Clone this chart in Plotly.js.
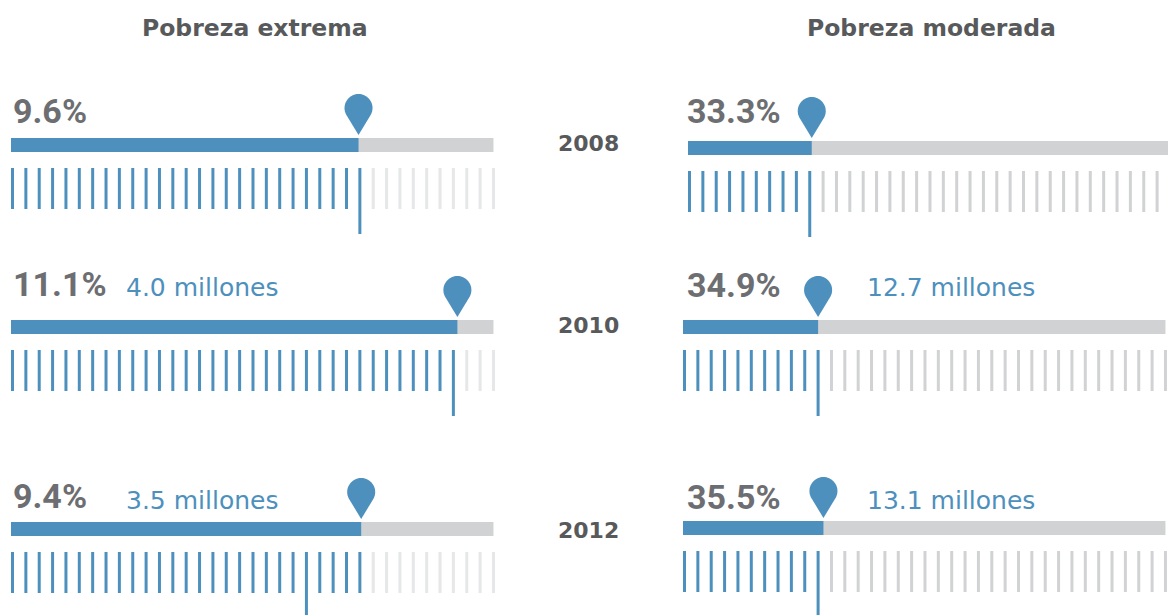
<!DOCTYPE html>
<html>
<head>
<meta charset="utf-8">
<script src="https://cdn.plot.ly/plotly-3.0.1.min.js"></script>
<style>
  html, body { margin: 0; padding: 0; background: #ffffff; }
  #chart { width: 1168px; height: 615px; }
</style>
</head>
<body>
<div id="chart"></div>
<script>
// ---------------- DATA ----------------
const years = ['2008', '2010', '2012'];
const panelTitles = ['Pobreza extrema', 'Pobreza moderada'];

// headline percentages
const extremaPct = [9.6, 11.1, 9.4];
const moderadaPct = [33.3, 34.9, 35.5];

// people in poverty (millions); no label for 2008
const extremaMillones = [null, 4.0, 3.5];
const moderadaMillones = [null, 12.7, 13.1];

// length of the blue bar, in gauge units (full gauge = 36 units)
const extremaFill = [25.9, 33.3, 26.1];
const moderadaFill = [9.15, 10.0, 10.4];

// number of blue gauge ticks and index of the long (marked) tick
const extremaBlueTicks = [27, 34, 27];
const moderadaBlueTicks = [10, 11, 11];
const extremaMarkTick = [26, 33, 22];
const moderadaMarkTick = [9, 10, 10];

const gaugeTicks = 37;   // ticks 0..36
const gaugeMax = 36;

// ---------------- LAYOUT / STYLE ----------------
const W = 1168, H = 615;
const BLUE = '#4d90bd';
const BAR_GREY = '#d1d2d4';
const TICK_GREY = ['#e6e7e8', '#d1d2d4'];
const TXT_DARK = '#58595b';
const TXT_PCT = '#6d6e71';
const UNIT = 13.36;                       // pixels per gauge unit
const barTop = [[138, 320, 522], [141, 320, 521]];
const originX = [[12.5, 12.5, 12.5], [689.5, 684.5, 684.5]];

const panels = [
  {pct: extremaPct, mill: extremaMillones, fill: extremaFill, blue: extremaBlueTicks, mark: extremaMarkTick},
  {pct: moderadaPct, mill: moderadaMillones, fill: moderadaFill, blue: moderadaBlueTicks, mark: moderadaMarkTick}
];

const px = x => x / W;
const py = y => 1 - y / H;

// teardrop pin path, pixel units relative to anchor (y up)
function pinPath() {
  const cy = 30, r = 14, tipY = 3;
  const a = Math.acos(r / (cy - tipY));
  let d = 'M0,' + tipY;
  const n = 40;
  for (let k = 0; k <= n; k++) {
    const t = a + (2 * Math.PI - 2 * a) * k / n;
    const x = r * Math.sin(t);
    const y = cy - r * Math.cos(t);
    d += ' L' + x.toFixed(2) + ',' + y.toFixed(2);
  }
  return d + ' Z';
}
const PIN = pinPath();

const traces = [];
const shapes = [];
const annotations = [];
const layout = {
  width: W, height: H,
  margin: {l: 0, r: 0, t: 0, b: 0, pad: 0},
  paper_bgcolor: '#ffffff',
  plot_bgcolor: 'rgba(0,0,0,0)',
  showlegend: false,
  barmode: 'overlay',
  hovermode: false
};

let k = 0;
for (let p = 0; p < 2; p++) {
  const P = panels[p];
  for (let r = 0; r < years.length; r++) {
    k++;
    const xa = 'x' + (k > 1 ? k : '');
    const ya = 'y' + (k > 1 ? k : '');
    const x0 = originX[p][r];
    const top = barTop[p][r];
    const xStart = Math.max(0, x0 - 0.6 * UNIT);
    const xEnd = Math.min(W, x0 + (gaugeMax + 0.6) * UNIT);
    const yTopPx = top - 50;
    const yBotPx = Math.min(H, top + 100);
    layout['xaxis' + (k > 1 ? k : '')] = {
      domain: [px(xStart), px(xEnd)],
      range: [(xStart - x0) / UNIT, (xEnd - x0) / UNIT],
      anchor: ya, visible: false, fixedrange: true
    };
    layout['yaxis' + (k > 1 ? k : '')] = {
      domain: [py(yBotPx), py(yTopPx)],
      range: [-(yBotPx - top), 50],
      anchor: xa, visible: false, fixedrange: true
    };
    const base = -1.5 / UNIT;
    // grey background bar
    traces.push({type: 'bar', orientation: 'h', x: [gaugeMax - base], base: base, y: [-7], width: 14,
      marker: {color: BAR_GREY, line: {width: 0}}, xaxis: xa, yaxis: ya, hoverinfo: 'skip'});
    // blue filled bar
    traces.push({type: 'bar', orientation: 'h', x: [P.fill[r] - base], base: base, y: [-7], width: 14,
      marker: {color: BLUE, line: {width: 0}}, xaxis: xa, yaxis: ya, hoverinfo: 'skip'});
    // gauge ticks
    const bx = [], by = [], gx = [], gy = [];
    for (let i = 0; i < gaugeTicks; i++) {
      if (i === P.mark[r]) continue;
      if (i < P.blue[r]) { bx.push(i, i, null); by.push(-30, -71, null); }
      else { gx.push(i, i, null); gy.push(-30, -71, null); }
    }
    traces.push({type: 'scatter', mode: 'lines', x: gx, y: gy, line: {color: TICK_GREY[p], width: 3},
      xaxis: xa, yaxis: ya, hoverinfo: 'skip'});
    traces.push({type: 'scatter', mode: 'lines', x: bx, y: by, line: {color: BLUE, width: 3},
      xaxis: xa, yaxis: ya, hoverinfo: 'skip'});
    traces.push({type: 'scatter', mode: 'lines', x: [P.mark[r], P.mark[r]], y: [-30, -96],
      line: {color: BLUE, width: 3}, xaxis: xa, yaxis: ya, hoverinfo: 'skip'});
    // pin marker at end of blue bar
    shapes.push({type: 'path', xref: xa, yref: ya, xsizemode: 'pixel', ysizemode: 'pixel',
      xanchor: P.fill[r], yanchor: 0, path: PIN, fillcolor: BLUE, line: {width: 0}, layer: 'above'});
  }
}

// ---------------- TEXT ----------------
const titleX = [255, 931];
panelTitles.forEach((t, i) => annotations.push({
  text: t, xref: 'paper', yref: 'paper', x: px(titleX[i]), y: py(28), xanchor: 'center', yanchor: 'middle',
  showarrow: false, font: {family: '"DejaVu Sans", sans-serif', size: 23.5, weight: 'bold', color: TXT_DARK}
}));
const yearY = [143, 325, 530];
years.forEach((y, i) => annotations.push({
  text: y, xref: 'paper', yref: 'paper', x: px(588), y: py(yearY[i]), xanchor: 'center', yanchor: 'middle',
  showarrow: false, font: {family: '"DejaVu Sans", sans-serif', size: 22, weight: 'bold', color: TXT_DARK}
}));
const pctX = [11, 685];
const pctY = [[110.5, 284, 496], [111, 285, 497]];
const millX = [124, 865];
const millY = [[0, 287, 500], [0, 287, 500]];
for (let p = 0; p < 2; p++) {
  const P = panels[p];
  for (let r = 0; r < years.length; r++) {
    annotations.push({
      text: P.pct[r].toFixed(1) + '%', xref: 'paper', yref: 'paper', x: px(pctX[p]), y: py(pctY[p][r]),
      xanchor: 'left', yanchor: 'middle', showarrow: false,
      font: {family: 'Roboto, "Liberation Sans", sans-serif', size: 34, weight: 'bold', color: TXT_PCT}
    });
    if (P.mill[r] !== null) {
      annotations.push({
        text: P.mill[r].toFixed(1) + ' millones', xref: 'paper', yref: 'paper', x: px(millX[p]), y: py(millY[p][r]),
        xanchor: 'left', yanchor: 'middle', showarrow: false,
        font: {family: '"DejaVu Sans", sans-serif', size: 25, color: BLUE}
      });
    }
  }
}

layout.shapes = shapes;
layout.annotations = annotations;

Plotly.newPlot('chart', traces, layout, {staticPlot: true, displayModeBar: false, responsive: false});
</script>
</body>
</html>
